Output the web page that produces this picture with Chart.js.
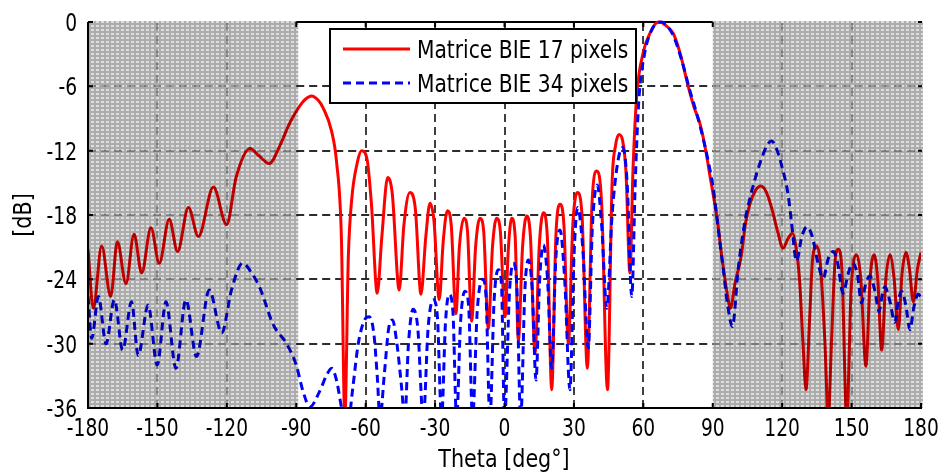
<!DOCTYPE html>
<html>
<head>
<meta charset="utf-8">
<script src="https://cdn.jsdelivr.net/npm/chart.js@4.4.1/dist/chart.umd.min.js"></script>
<style>
html,body{margin:0;padding:0;background:#fff;}
#wrap{width:944px;height:476px;}
</style>
</head>
<body>
<div id="wrap"><canvas id="c" width="944" height="476"></canvas></div>
<script>
// ---- data ----
const seriesNames = ["Matrice BIE 17 pixels", "Matrice BIE 34 pixels"];
const xTicks = [-180, -150, -120, -90, -60, -30, 0, 30, 60, 90, 120, 150, 180];
const yTicks = [0, -6, -12, -18, -24, -30, -36];
const xTitle = "Theta [deg°]";
const yTitle = "[dB]";
const shadedRanges = [[-180, -90], [90, 180]];

const theta17 = [-180,-177.7,-174.1,-170.2,-167.3,-163.6,-160.1,-156.8,-152.8,-149.2,-144.9,-141.3,-136.6,-132.3,-125.8,-120.1,-116,-110,-106,-101.7,-97,-93,-89,-86,-83.4,-80.5,-78.4,-74.7,-72.6,-70.5,-69,-67.5,-66.1,-63.5,-61.8,-59.4,-57.5,-55,-53,-50.5,-48.5,-45.5,-43.5,-40.9,-38.5,-36.1,-34,-32.2,-30.5,-28.2,-26.5,-24.7,-23,-21,-19.5,-17.5,-16,-14.2,-12.5,-10.6,-9,-7,-5.2,-3.4,-1.8,0.2,1.7,3.1,4.6,6,7.8,9.6,11.2,13.2,15,16.8,18.5,20.4,22.2,24,25.7,27.6,29.5,31.5,33.5,35.8,37.8,39.9,42,44.5,46.5,48,49.5,51,52.5,54.2,55.5,57.1,60,63,65.5,67.2,69.5,73,76,79.5,82,84.5,87,88.9,90.2,92,93.8,96,97.7,99.5,102.4,104,106,108.5,110.8,113,115.4,118,120.4,122.5,124.5,126,127.5,129,130.3,131.8,133.2,134.9,136.5,138.5,139.9,141.3,142.8,144.2,145.8,147.9,149.8,152.2,154,156.2,158,159.7,161.3,163,164.8,166.6,168.4,170.2,171.8,173.5,175,176.7,178.5,180];
const gain17 = [-21.2,-26.7,-20.9,-25.6,-20.5,-24.4,-19.8,-23.4,-19.2,-22.5,-18.4,-21.4,-17.3,-20,-15.4,-18.9,-14.5,-11.8,-12.5,-13.2,-11.5,-9.5,-8,-7.2,-6.9,-7.3,-8,-10.2,-13,-20,-37,-22,-16.7,-13,-12,-12.8,-17,-25.3,-20,-14.5,-16,-25,-19,-15.9,-17.5,-25.4,-20,-16.9,-18.5,-25.9,-20.5,-17.6,-19,-27.2,-21,-18.3,-19.5,-27.9,-21,-18.3,-19.5,-28.6,-21,-18.3,-19.5,-27.5,-21,-18.3,-20,-29.7,-21,-18.1,-20,-30.9,-21,-17.8,-20,-34.3,-20,-17,-19,-30,-19,-15.9,-18,-32.3,-17,-13.9,-17,-34.3,-15,-11.5,-10.5,-11,-14,-23.4,-14,-7,-2.8,-1,-0.1,0,-0.3,-1.1,-3,-6.1,-8,-9.5,-12,-14.5,-16.1,-18.5,-21.7,-25,-26.7,-24.5,-21.7,-19,-17,-15.7,-15.3,-15.8,-17.3,-19.5,-21.1,-20.2,-19.7,-21,-24,-30,-34.3,-28,-22,-20.9,-22.5,-30,-37,-30,-22.5,-21.2,-23,-37,-25,-21.7,-24,-32.1,-24,-21.7,-24,-30.6,-24,-21.7,-24,-28.7,-23.5,-21.5,-23,-26.1,-23,-21.5];

const theta34 = [-180,-178.4,-175.5,-172.2,-168.6,-165,-161.2,-158.3,-154,-150.1,-146.3,-142,-137.7,-133.1,-127.6,-122.2,-118,-113.2,-109,-105.7,-100,-94.2,-90,-87,-84.1,-80,-77,-74.7,-72.5,-70.4,-68,-65.5,-63.2,-60.5,-58.5,-56.5,-55,-53.8,-52,-50,-48.4,-46.5,-44.5,-43.1,-41.5,-39.5,-37.5,-35.1,-33,-30.8,-29,-27.2,-25.5,-23.9,-22.3,-20.7,-19,-17.1,-15.5,-13.8,-11.8,-9.4,-8,-6.3,-4.5,-2.7,-1.3,0,2.2,3.8,5.3,7,8.8,10.3,12,13.6,15.2,16.8,18.6,20.4,22.2,24,26,28.3,30,31.6,33.8,36.2,38,40.1,42,44.2,46.5,49,51.1,53,55,56.5,58,60.5,63.5,66,68,70,73,76.5,80,83,86,89,90.2,92.5,94.5,96.5,98.5,101,103.9,106,108.2,111,113.5,115.4,117.5,120.4,122.5,124,126.2,128.5,130.8,133,135.5,137.7,140,142,144,146.3,148.5,150.4,152.5,154.3,156,157.9,160,161.9,163.2,164.4,166.5,168.7,170.2,171.6,173.5,175.2,177,178.8,180];
const gain34 = [-25.6,-29.5,-25.6,-30,-25.9,-30.6,-26.1,-31.1,-26.4,-32,-26.1,-32.3,-25.9,-31.2,-25,-29,-25,-22.5,-23.5,-24.8,-28.2,-30,-32,-34.5,-35.9,-34.5,-33,-32.3,-33.5,-36,-38,-34,-30,-27.8,-27.5,-29,-33,-37,-33,-28.5,-27.8,-30,-34,-37,-30,-26.8,-28.5,-37,-28.5,-25.9,-27.5,-37,-28,-25.4,-27,-37,-28,-25.1,-26.5,-37,-27,-24,-25.5,-37,-26,-23.1,-24.5,-37,-25,-22.5,-24.5,-37,-25,-22.2,-25,-33.4,-24,-20.8,-24,-32.3,-22,-19.4,-24,-34.3,-22,-17.3,-21,-30.4,-19,-15.2,-19,-26.7,-18,-13,-11.7,-15,-25.6,-15,-7.5,-3,-0.8,-0.1,0,-0.3,-1.3,-3.5,-6.3,-8.5,-11,-14,-15.5,-19.5,-23,-26.5,-28.4,-23,-18.6,-16.5,-14.7,-12.8,-11.5,-11.1,-11.8,-13.9,-16,-18.6,-22.3,-20,-19.1,-20,-22.5,-23.9,-22,-21.4,-22.5,-25.3,-23.5,-22.5,-23.5,-26.2,-24.5,-23.7,-25,-27,-25.5,-24.7,-26,-28,-26,-25.1,-26.5,-28.7,-26.5,-25.4,-25.6];

// ---- styles ----
const FONT = "'DejaVu Sans Condensed', 'Liberation Sans Narrow', sans-serif";
const RED = '#ff0000', BLUE = '#0000ff';
const DASH = [8, 5];

function pts(xs, ys){ return xs.map((x, i) => ({x: x, y: ys[i]})); }

function makePattern(ctx){
  const p = document.createElement('canvas');
  p.width = 5; p.height = 4;
  const g = p.getContext('2d');
  g.fillStyle = '#acacac'; g.fillRect(0, 0, 5, 4);
  g.fillStyle = '#dedede'; g.fillRect(1, 1, 3, 2);
  return ctx.createPattern(p, 'repeat');
}

// draw horizontally condensed text (still real canvas text)
function text(ctx, str, x, y, sx, align, rot){
  ctx.save();
  ctx.translate(x, y);
  if (rot) ctx.rotate(rot);
  ctx.scale(sx, 1);
  ctx.textAlign = align;
  ctx.fillText(str, 0, 0);
  ctx.restore();
}

const decor = {
  id: 'decor',
  beforeDatasetsDraw(chart){
    const {ctx, chartArea: a, scales: {x, y}} = chart;
    const xl = x.getPixelForValue(-90), xr = x.getPixelForValue(90);
    ctx.save();
    ctx.lineWidth = 1.5;
    ctx.setLineDash([8, 5]);
    xTicks.forEach(v => {
      if (Math.abs(v) >= 90) return;
      const px = Math.round(x.getPixelForValue(v));
      ctx.strokeStyle = '#000';
      ctx.beginPath(); ctx.moveTo(px, a.bottom); ctx.lineTo(px, a.top); ctx.stroke();
    });
    [-150, -120, 120, 150].forEach(v => {
      const px = Math.round(x.getPixelForValue(v));
      ctx.strokeStyle = '#9a9a9a';
      ctx.beginPath(); ctx.moveTo(px, a.bottom); ctx.lineTo(px, a.top); ctx.stroke();
    });
    yTicks.forEach(v => {
      if (v === 0 || v === -36) return;
      const py = Math.round(y.getPixelForValue(v));
      ctx.strokeStyle = '#9a9a9a';
      ctx.beginPath(); ctx.moveTo(a.left, py); ctx.lineTo(a.right, py); ctx.stroke();
      ctx.strokeStyle = '#000';
      ctx.beginPath(); ctx.moveTo(xl, py); ctx.lineTo(xr, py); ctx.stroke();
    });
    ctx.setLineDash([]);
    ctx.lineWidth = 2;
    ctx.strokeStyle = '#000';
    ctx.beginPath();
    ctx.moveTo(xl, a.top); ctx.lineTo(xr, a.top);
    ctx.stroke();
    ctx.restore();
  },
  afterDatasetsDraw(chart){
    const {ctx, chartArea: a, scales: {x, y}} = chart;
    ctx.save();
    // shaded, textured regions (multiplied over the curves)
    ctx.globalCompositeOperation = 'multiply';
    ctx.fillStyle = makePattern(ctx);
    shadedRanges.forEach(([r0, r1]) => {
      const x0 = x.getPixelForValue(r0), x1 = x.getPixelForValue(r1);
      ctx.fillRect(x0, a.top - 1, x1 - x0 + 2, a.bottom - a.top + 1);
    });
    ctx.globalCompositeOperation = 'source-over';
    // left & bottom axes
    ctx.strokeStyle = '#000';
    ctx.lineWidth = 2;
    ctx.beginPath();
    ctx.moveTo(a.left, a.top); ctx.lineTo(a.left, a.bottom); ctx.lineTo(a.right + 1, a.bottom);
    ctx.stroke();
    // inward tick marks
    xTicks.forEach(v => {
      const px = x.getPixelForValue(v);
      ctx.beginPath();
      ctx.moveTo(px, a.bottom); ctx.lineTo(px, a.bottom - 5);
      if (Math.abs(v) <= 90) { ctx.moveTo(px, a.top); ctx.lineTo(px, a.top + 5); }
      ctx.stroke();
    });
    yTicks.forEach(v => {
      const py = y.getPixelForValue(v);
      ctx.beginPath();
      ctx.moveTo(a.left, py); ctx.lineTo(a.left + 5, py);
      ctx.moveTo(a.right + 1, py); ctx.lineTo(a.right - 3, py);
      ctx.stroke();
    });
    // legend box
    const lx = 330, ly = 29, lw = 306, lh = 74;
    ctx.fillStyle = '#fff';
    ctx.fillRect(lx, ly, lw, lh);
    ctx.lineWidth = 2;
    ctx.strokeStyle = '#000';
    ctx.strokeRect(lx, ly, lw, lh);
    const rows = [
      {name: seriesNames[0], color: RED, dash: [], y: 49},
      {name: seriesNames[1], color: BLUE, dash: DASH, y: 83}
    ];
    ctx.font = "25px " + FONT;
    ctx.textBaseline = 'alphabetic';
    rows.forEach(r => {
      ctx.strokeStyle = r.color;
      ctx.lineWidth = 3;
      ctx.setLineDash(r.dash);
      ctx.beginPath(); ctx.moveTo(343, r.y); ctx.lineTo(410, r.y); ctx.stroke();
      ctx.setLineDash([]);
      ctx.fillStyle = '#000';
      text(ctx, r.name, 417, r.y + 9, 0.9, 'left', 0);
    });
    ctx.restore();
  },
  afterDraw(chart){
    const {ctx, chartArea: a, scales: {x, y}} = chart;
    ctx.save();
    ctx.fillStyle = '#000';
    ctx.font = "25px " + FONT;
    ctx.textBaseline = 'alphabetic';
    xTicks.forEach(v => text(ctx, String(v), x.getPixelForValue(v), 436, 0.83, 'center', 0));
    yTicks.forEach(v => text(ctx, String(v), 77, y.getPixelForValue(v) + 9, 0.83, 'right', 0));
    text(ctx, xTitle, 504, 467, 0.92, 'center', 0);
    text(ctx, yTitle, 31, 215, 0.92, 'center', -Math.PI / 2);
    ctx.restore();
  }
};

new Chart(document.getElementById('c'), {
  type: 'line',
  data: {
    datasets: [
      {label: seriesNames[0], data: pts(theta17, gain17), borderColor: RED, borderWidth: 3,
       pointRadius: 0, cubicInterpolationMode: 'monotone', order: 1,
       clip: {left: 0, right: 0, top: 3, bottom: 0}},
      {label: seriesNames[1], data: pts(theta34, gain34), borderColor: BLUE, borderWidth: 3,
       borderDash: DASH, pointRadius: 0, cubicInterpolationMode: 'monotone', order: 0,
       clip: {left: 0, right: 0, top: 3, bottom: 0}}
    ]
  },
  options: {
    responsive: false,
    animation: false,
    events: [],
    layout: {padding: {left: 0, right: 23, top: 22, bottom: 0}},
    plugins: {legend: {display: false}, tooltip: {enabled: false}},
    scales: {
      x: {
        type: 'linear', min: -180, max: 180,
        afterFit(s){ s.height = 68; },
        afterBuildTicks(s){ s.ticks = xTicks.map(v => ({value: v})); },
        grid: {display: false, drawTicks: false},
        border: {display: false},
        ticks: {display: false},
        title: {display: false}
      },
      y: {
        type: 'linear', min: -36, max: 0,
        afterFit(s){ s.width = 88; },
        afterBuildTicks(s){ s.ticks = yTicks.map(v => ({value: v})); },
        grid: {display: false, drawTicks: false},
        border: {display: false},
        ticks: {display: false},
        title: {display: false}
      }
    }
  },
  plugins: [decor]
});
</script>
</body>
</html>
